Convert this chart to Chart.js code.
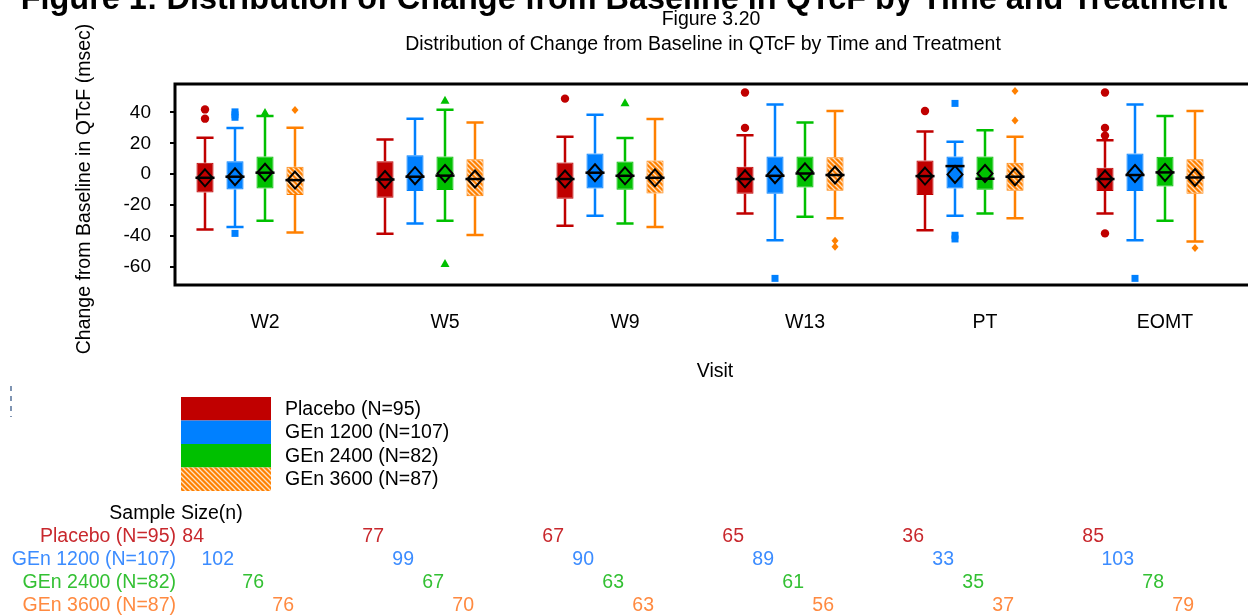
<!DOCTYPE html>
<html>
<head>
<meta charset="utf-8">
<script src="https://cdn.jsdelivr.net/npm/chart.js@4.4.1/dist/chart.umd.min.js"></script>
<style>
  html, body { margin: 0; padding: 0; background: #fff; overflow: hidden; }
  #wrap { width: 1260px; height: 615px; }
</style>
</head>
<body>
<div id="wrap"><canvas id="qtcf" width="1260" height="615"></canvas></div>
<script>
// Visits and treatment groups
const visits = ['W2', 'W5', 'W9', 'W13', 'PT', 'EOMT'];
const treatments = ['Placebo (N=95)', 'GEn 1200 (N=107)', 'GEn 2400 (N=82)', 'GEn 3600 (N=87)'];
const yTicks = [40, 20, 0, -20, -40, -60];

// Box statistics, one row per treatment, one column per visit
const whiskerLo = [
  [-36, -38.7, -33.5, -25.5, -36.4, -25.5],
  [-34.4, -32, -27, -42.9, -27, -42.9],
  [-30.3, -30.3, -32, -27.7, -25.5, -30.3],
  [-37.9, -39.6, -34.4, -28.6, -28.6, -43.7]
];
const q1 = [
  [-12, -15.4, -16, -12.8, -13.6, -11],
  [-10, -11, -9.3, -12.8, -9.3, -11],
  [-9.3, -10.4, -10.2, -8.7, -10.2, -8],
  [-13.6, -14.3, -12.6, -10.8, -10.8, -12.8]
];
const medians = [
  [-2.4, -3.5, -3.2, -3.2, -1.3, -3.2],
  [-1.7, -1.7, 0.9, -1.1, 5.2, -0.6],
  [0.9, -1, -1.1, 0.4, -3, 1.1],
  [-3.9, -3.2, -2.4, -0.6, -1.7, -2.2]
];
const means = [
  [-2.4, -3.5, -3.2, -3, -1.3, -3.2],
  [-1.7, -1, 0.9, -0.4, -0.2, 0.4],
  [1.2, 0.4, -1.1, 1.5, 0.4, 1.1],
  [-3.9, -3.2, -2.4, -0.6, -1.7, -2.2]
];
const q3 = [
  [7.4, 8.4, 7.6, 4.8, 8.9, 4.1],
  [8.4, 12.3, 13.4, 11.5, 11.5, 13.4],
  [11.5, 11.5, 8.2, 11.5, 11.5, 11.3],
  [4.8, 9.7, 8.9, 11, 7.4, 9.7]
];
const whiskerHi = [
  [23.6, 22.5, 24.2, 25.3, 27.7, 21.9],
  [30, 35.9, 38.5, 45.2, 21, 45.2],
  [37.7, 41.8, 23.4, 33.5, 28.4, 37.7],
  [30.1, 33.5, 35.7, 40.9, 24.2, 40.9]
];
const outliers = [
  [[42, 36], [], [49], [53, 30], [41], [53, 30, 25, -38.5]],
  [[40.4, 38.5, 36.9, -38.5], [], [], [-67.7], [45.9, -39.7, -42.1], [-67.7]],
  [[40], [48, -58], [46.3], [], [], []],
  [[41.6], [], [], [-43.3, -47.2], [53.9, 34.8], [-48]]
];

// Sample size table
const sampleSizes = [
  [84, 77, 67, 65, 36, 85],
  [102, 99, 90, 89, 33, 103],
  [76, 67, 63, 61, 35, 78],
  [76, 70, 63, 56, 37, 79]
];

const colors = ['#C00000', '#0080FF', '#00C000', '#FF8000'];
const textColors = ['#c8282d', '#3c8cff', '#33c033', '#ff8a40'];
const FONT = '"Liberation Sans", Arial, Helvetica, sans-serif';
const TXT = '19.5px ' + FONT;

Chart.defaults.font.family = FONT;
Chart.defaults.color = '#000';

// hatched fill for the GEn 3600 boxes
function makeHatch() {
  const c = document.createElement('canvas');
  c.width = 5; c.height = 5;
  const g = c.getContext('2d');
  g.fillStyle = '#FF8000';
  g.fillRect(0, 0, 5, 5);
  g.strokeStyle = '#ffe2c4';
  g.lineWidth = 1.3;
  g.beginPath();
  g.moveTo(-1, -1); g.lineTo(6, 6);
  g.moveTo(-1, 4); g.lineTo(1, 6);
  g.moveTo(4, -1); g.lineTo(6, 1);
  g.stroke();
  return g.createPattern(c, 'repeat');
}
const hatch = makeHatch();

function marker(ctx, k, x, y) {
  ctx.fillStyle = colors[k];
  ctx.beginPath();
  if (k === 0) {
    ctx.arc(x, y, 4.2, 0, Math.PI * 2);
  } else if (k === 1) {
    ctx.rect(x - 3.5, y - 3.5, 7, 7);
  } else if (k === 2) {
    ctx.moveTo(x, y - 4.5); ctx.lineTo(x + 4.5, y + 3.5); ctx.lineTo(x - 4.5, y + 3.5); ctx.closePath();
  } else {
    ctx.moveTo(x, y - 4); ctx.lineTo(x + 3.5, y); ctx.lineTo(x, y + 4); ctx.lineTo(x - 3.5, y); ctx.closePath();
  }
  ctx.fill();
}

// whiskers, medians, means and outliers on top of the boxes
const boxExtras = {
  id: 'boxExtras',
  afterDatasetsDraw(chart) {
    const ctx = chart.ctx;
    const ys = chart.scales.y;
    ctx.save();
    treatments.forEach((t, k) => {
      const meta = chart.getDatasetMeta(k);
      meta.data.forEach((bar, i) => {
        const x = bar.x, hw = bar.width / 2;
        const yLo = ys.getPixelForValue(whiskerLo[k][i]);
        const yHi = ys.getPixelForValue(whiskerHi[k][i]);
        const yQ1 = ys.getPixelForValue(q1[k][i]);
        const yQ3 = ys.getPixelForValue(q3[k][i]);
        ctx.strokeStyle = colors[k];
        ctx.lineWidth = 2.5;
        ctx.beginPath();
        ctx.moveTo(x, yQ3); ctx.lineTo(x, yHi);
        ctx.moveTo(x - hw, yHi); ctx.lineTo(x + hw, yHi);
        ctx.moveTo(x, yQ1); ctx.lineTo(x, yLo);
        ctx.moveTo(x - hw, yLo); ctx.lineTo(x + hw, yLo);
        ctx.stroke();

        // median
        const yMed = ys.getPixelForValue(medians[k][i]);
        ctx.strokeStyle = '#000';
        ctx.lineWidth = 2.5;
        ctx.beginPath();
        ctx.moveTo(x - hw - 1, yMed); ctx.lineTo(x + hw + 1, yMed);
        ctx.stroke();

        // mean diamond
        const yMean = ys.getPixelForValue(means[k][i]);
        ctx.lineWidth = 2;
        ctx.beginPath();
        ctx.moveTo(x, yMean - 8.5); ctx.lineTo(x + 7.5, yMean);
        ctx.lineTo(x, yMean + 8.5); ctx.lineTo(x - 7.5, yMean);
        ctx.closePath();
        ctx.stroke();

        outliers[k][i].forEach(v => marker(ctx, k, x, ys.getPixelForValue(v)));
      });
    });
    ctx.restore();
  },
  afterDraw(chart) {
    const ctx = chart.ctx;
    const a = chart.chartArea;
    ctx.save();
    // frame
    ctx.strokeStyle = '#000';
    ctx.lineWidth = 3;
    ctx.strokeRect(a.left, a.top, a.right - a.left, a.bottom - a.top);

    // titles
    const mid = (a.left + a.right) / 2;
    ctx.fillStyle = '#000';
    ctx.textAlign = 'center';
    ctx.textBaseline = 'alphabetic';
    const bigTitle = 'Figure 1: Distribution of Change from Baseline in QTcF by Time and Treatment';
    ctx.font = 'bold 100px ' + FONT;
    const size = 1208 / ctx.measureText(bigTitle).width * 100;
    ctx.font = 'bold ' + size.toFixed(1) + 'px ' + FONT;
    ctx.fillText(bigTitle, 624, 9);

    ctx.font = TXT;
    ctx.textBaseline = 'middle';
    ctx.fillText('Figure 3.20', mid - 4, 20);
    ctx.fillText('Distribution of Change from Baseline in QTcF by Time and Treatment', mid - 12, 45);
    ctx.fillText('Visit', mid, 372);

    ctx.save();
    ctx.translate(85, 189);
    ctx.rotate(-Math.PI / 2);
    ctx.fillText('Change from Baseline in QTcF (msec)', 0, 0);
    ctx.restore();

    // small dashed mark on the left edge
    ctx.strokeStyle = '#2b4f80';
    ctx.lineWidth = 1.2;
    ctx.setLineDash([5, 5]);
    ctx.beginPath();
    ctx.moveTo(11, 386); ctx.lineTo(11, 417);
    ctx.stroke();
    ctx.setLineDash([]);

    // legend
    treatments.forEach((t, k) => {
      const y0 = 397 + k * 23.5;
      ctx.fillStyle = k === 3 ? hatch : colors[k];
      ctx.fillRect(181, y0, 90, 23.5);
      ctx.fillStyle = '#000';
      ctx.textAlign = 'left';
      ctx.fillText(t, 285, y0 + 12.5);
    });

    // sample size table
    ctx.textAlign = 'center';
    ctx.fillText('Sample Size(n)', 176, 514);
    treatments.forEach((t, k) => {
      const y = 537 + k * 23;
      ctx.fillStyle = textColors[k];
      ctx.textAlign = 'right';
      ctx.fillText(t, 176, y);
      chart.getDatasetMeta(k).data.forEach((bar, i) => {
        ctx.fillText(String(sampleSizes[k][i]), bar.x - 1, y);
      });
    });
    ctx.restore();
  }
};

const datasets = treatments.map((t, k) => ({
  label: t,
  data: visits.map((v, i) => [q1[k][i], q3[k][i]]),
  backgroundColor: k === 3 ? hatch : colors[k],
  borderColor: colors[k],
  borderWidth: 1,
  borderSkipped: false,
  categoryPercentage: 5 / 6,
  barPercentage: 0.57
}));
// empty slot so the four boxes sit left of centre like the original layout
datasets.push({ label: '', data: [], categoryPercentage: 5 / 6, barPercentage: 0.57 });

new Chart(document.getElementById('qtcf'), {
  type: 'bar',
  data: { labels: visits, datasets },
  options: {
    responsive: false,
    animation: false,
    layout: { padding: { top: 84, left: 0, right: 5, bottom: 0 } },
    plugins: {
      legend: { display: false },
      title: { display: false },
      tooltip: { enabled: false }
    },
    scales: {
      x: {
        offset: true,
        grid: { display: false, drawTicks: false },
        border: { display: false },
        ticks: { color: '#000', font: { size: 19.5 }, padding: 26, maxRotation: 0 },
        afterFit: s => { s.height = 330; }
      },
      y: {
        min: -72,
        max: 58.5,
        afterBuildTicks: s => { s.ticks = yTicks.map(v => ({ value: v })); },
        grid: { drawOnChartArea: false, drawTicks: true, tickLength: 5, color: '#000', lineWidth: 2 },
        border: { display: false },
        ticks: { color: '#000', font: { size: 19 }, padding: 19 },
        afterFit: s => { s.width = 175; }
      }
    }
  },
  plugins: [boxExtras]
});
</script>
</body>
</html>
